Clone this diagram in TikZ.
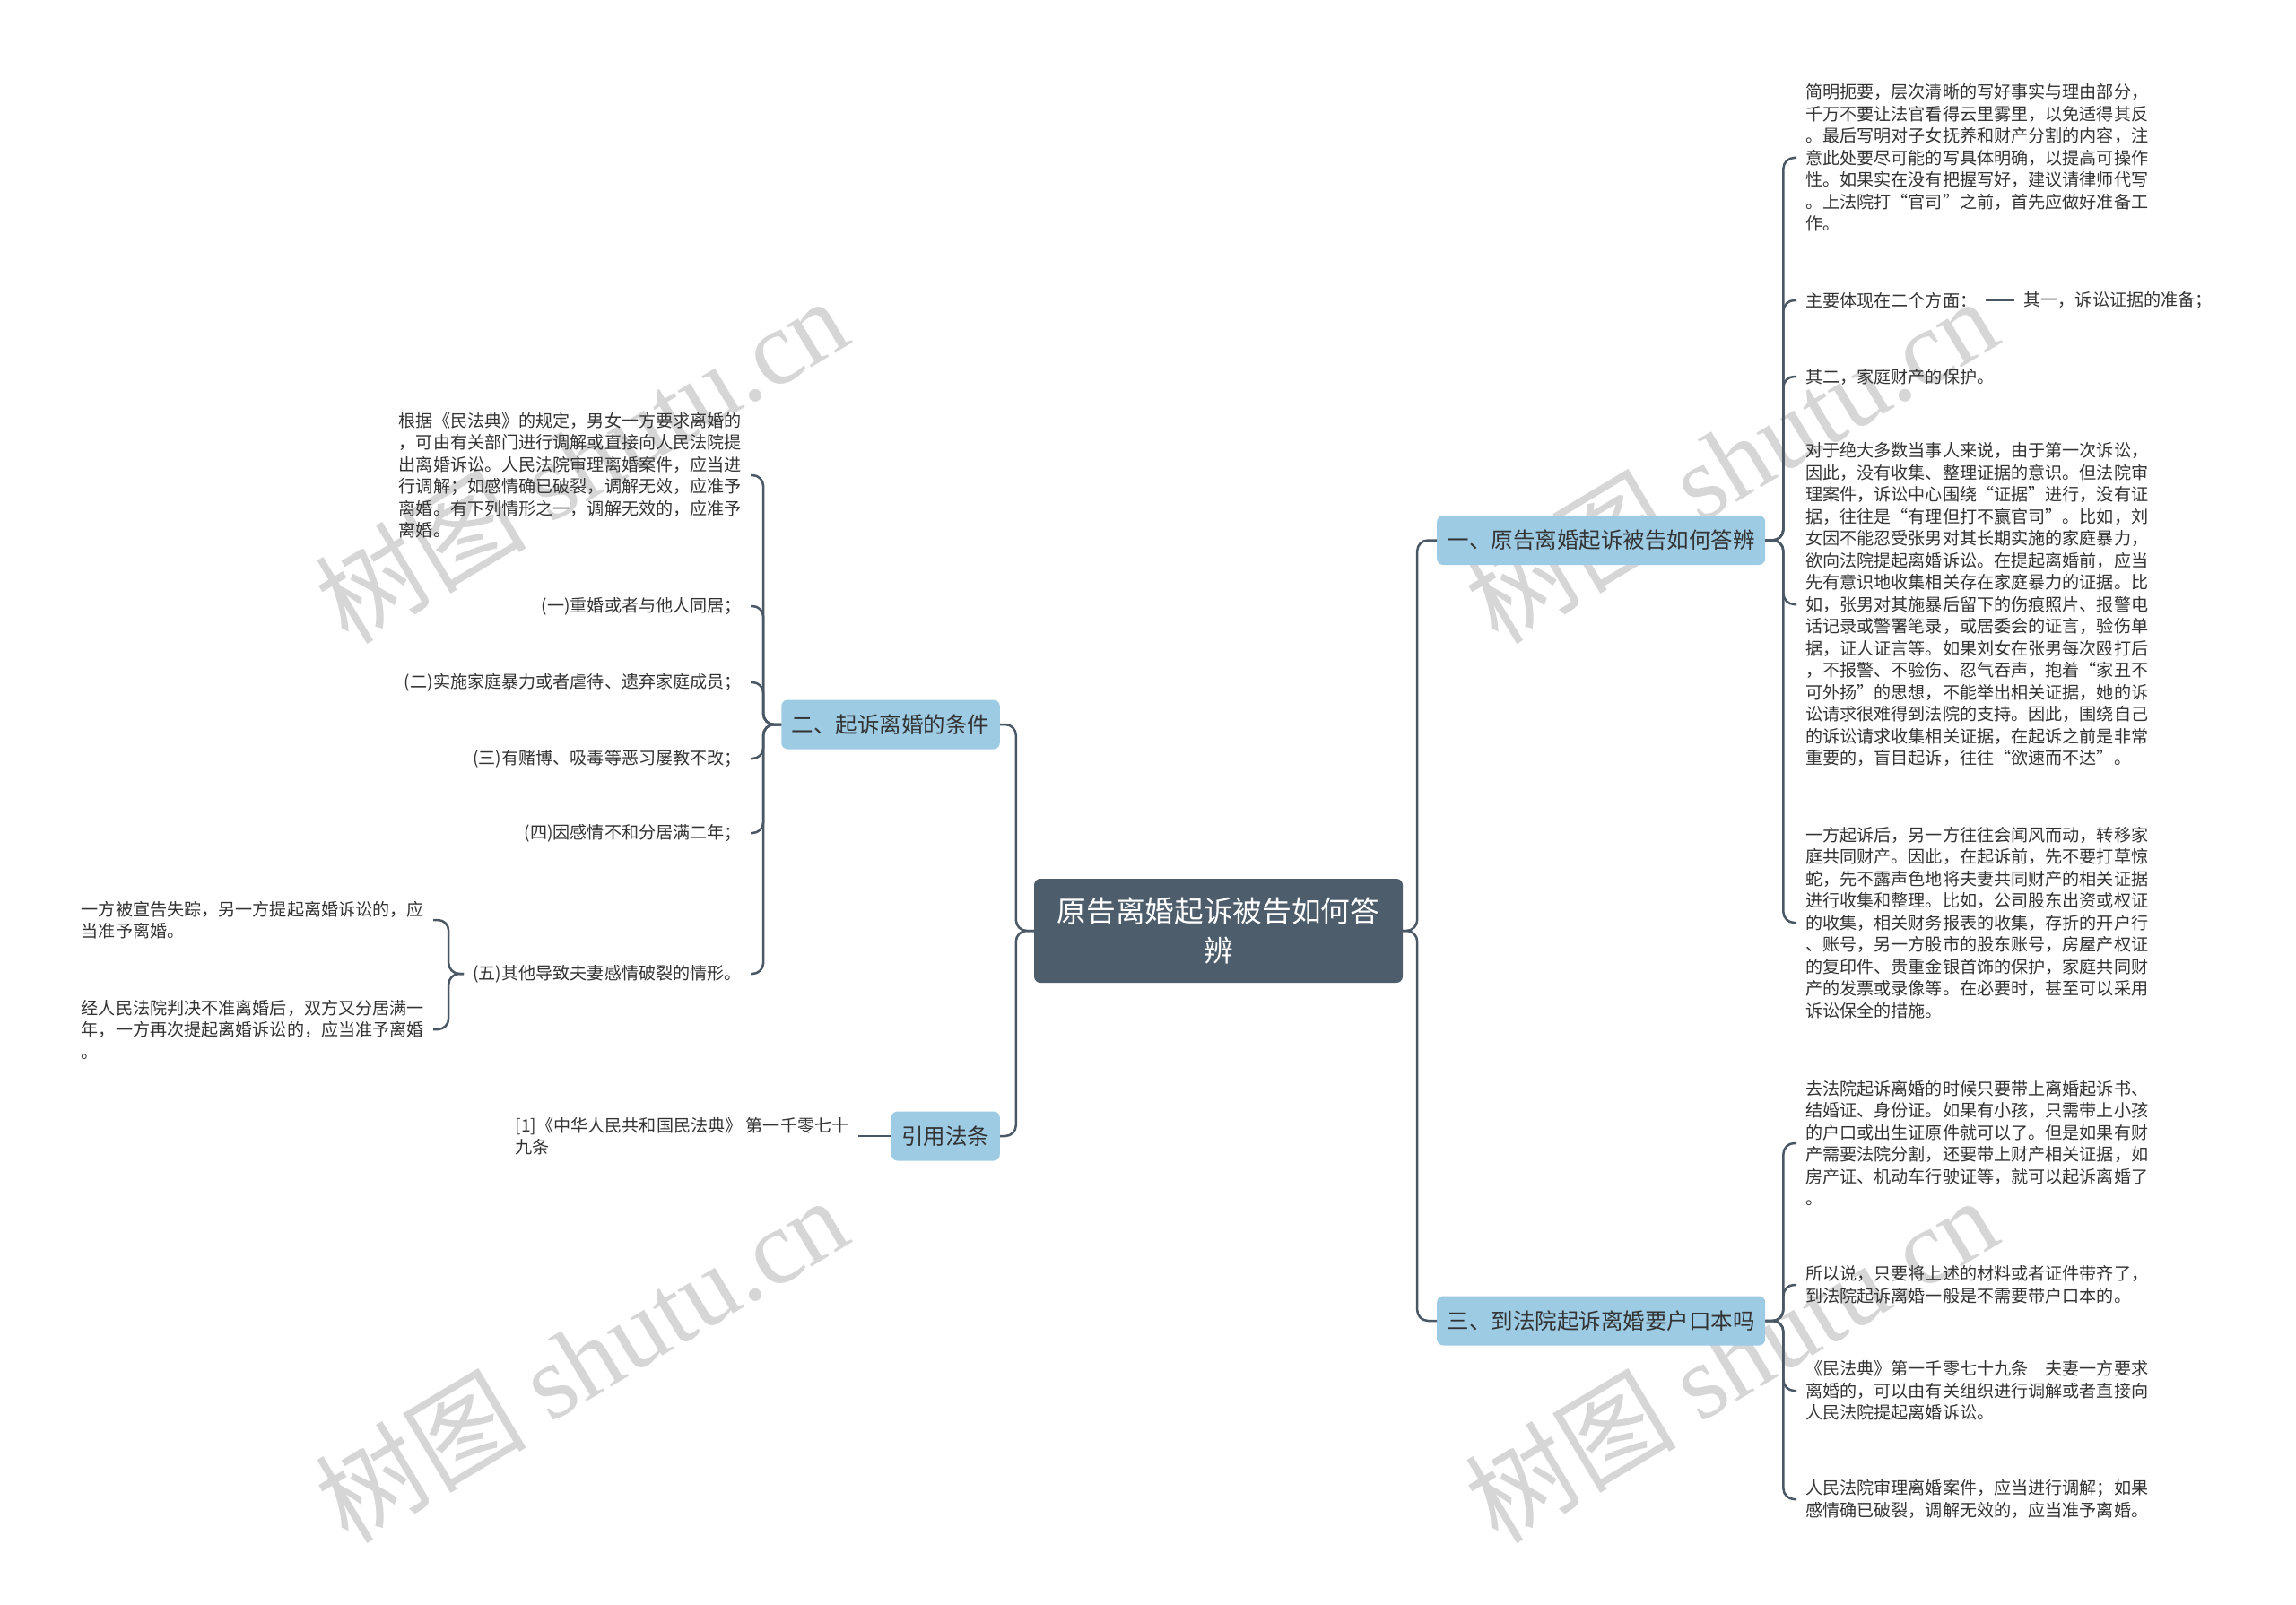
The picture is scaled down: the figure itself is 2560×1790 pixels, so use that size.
\documentclass[tikz,border=0pt]{standalone}
\usepackage{fontspec}
\setmainfont{Noto Sans CJK SC}
\newfontfamily\wmserif{Liberation Serif}
\usetikzlibrary{positioning}

\definecolor{rootfill}{HTML}{4E5D6C}
\definecolor{branchfill}{HTML}{9DCBE4}
\definecolor{linkcol}{HTML}{4A5865}
\definecolor{txt}{HTML}{333333}
\definecolor{wmgray}{HTML}{D6D6D6}

\begin{document}
\begin{tikzpicture}[
    x=1pt, y=-1pt,
    every node/.style={inner sep=0pt},
    root/.style={fill=rootfill, rounded corners=7pt, text=white, align=center,
        font=\fontsize{32.7pt}{44pt}\selectfont, minimum width=411pt, minimum height=116pt},
    branch/.style={fill=branchfill, rounded corners=7pt, text=txt,
        font=\fontsize{24.5pt}{30pt}\selectfont, inner xsep=11.5pt, minimum height=55pt},
    leaf/.style={text=txt, align=left, font=\fontsize{19.1pt}{24.5pt}\selectfont,
        inner xsep=10pt, inner ysep=4pt},
    link/.style={draw=linkcol, line width=2.5pt, rounded corners=12pt},
    watermark/.style={text=wmgray, rotate=31, font=\fontsize{118pt}{118pt}\selectfont}
]

\fill[white] (0,0) rectangle (2560,1790);
\useasboundingbox (0,0) rectangle (2560,1790);

% Watermarks
\node[watermark] (wm1) at (648,512) {树图 {\wmserif shutu.cn}};
\node[watermark] (wm2) at (648,1515) {树图 {\wmserif shutu.cn}};
\node[watermark] (wm3) at (1930,512) {树图 {\wmserif shutu.cn}};
\node[watermark] (wm4) at (1930,1515) {树图 {\wmserif shutu.cn}};

% Root
\node[root] (root) at (1358.5,1038) {原告离婚起诉被告如何答\\辨};

% Branches
\node[branch, anchor=west] (b1) at (1602,602.5) {一、原告离婚起诉被告如何答辨};
\node[branch, anchor=west] (b3) at (1602,1473) {三、到法院起诉离婚要户口本吗};
\node[branch, anchor=east] (b2) at (1115,808) {二、起诉离婚的条件};
\node[branch, anchor=east] (b4) at (1115,1267) {引用法条};

% Leaves of b1
\node[leaf, anchor=west] (r1) at (2003,176) {简明扼要，层次清晰的写好事实与理由部分，\\千万不要让法官看得云里雾里，以免适得其反\\。最后写明对子女抚养和财产分割的内容，注\\意此处要尽可能的写具体明确，以提高可操作\\性。如果实在没有把握写好，建议请律师代写\\。上法院打“官司”之前，首先应做好准备工\\作。};
\node[leaf, anchor=west] (r2) at (2003,335) {主要体现在二个方面：};
\node[leaf, right=32pt of r2] (r2a) {其一，诉讼证据的准备；};
\node[leaf, anchor=west] (r3) at (2003,420) {其二，家庭财产的保护。};
\node[leaf, anchor=west] (r4) at (2003,674) {对于绝大多数当事人来说，由于第一次诉讼，\\因此，没有收集、整理证据的意识。但法院审\\理案件，诉讼中心围绕“证据”进行，没有证\\据，往往是“有理但打不赢官司”。比如，刘\\女因不能忍受张男对其长期实施的家庭暴力，\\欲向法院提起离婚诉讼。在提起离婚前，应当\\先有意识地收集相关存在家庭暴力的证据。比\\如，张男对其施暴后留下的伤痕照片、报警电\\话记录或警署笔录，或居委会的证言，验伤单\\据，证人证言等。如果刘女在张男每次殴打后\\，不报警、不验伤、忍气吞声，抱着“家丑不\\可外扬”的思想，不能举出相关证据，她的诉\\讼请求很难得到法院的支持。因此，围绕自己\\的诉讼请求收集相关证据，在起诉之前是非常\\重要的，盲目起诉，往往“欲速而不达”。};
\node[leaf, anchor=west] (r5) at (2003,1029) {一方起诉后，另一方往往会闻风而动，转移家\\庭共同财产。因此，在起诉前，先不要打草惊\\蛇，先不露声色地将夫妻共同财产的相关证据\\进行收集和整理。比如，公司股东出资或权证\\的收集，相关财务报表的收集，存折的开户行\\、账号，另一方股市的股东账号，房屋产权证\\的复印件、贵重金银首饰的保护，家庭共同财\\产的发票或录像等。在必要时，甚至可以采用\\诉讼保全的措施。};

% Leaves of b3
\node[leaf, anchor=west] (s1) at (2003,1275) {去法院起诉离婚的时候只要带上离婚起诉书、\\结婚证、身份证。如果有小孩，只需带上小孩\\的户口或出生证原件就可以了。但是如果有财\\产需要法院分割，还要带上财产相关证据，如\\房产证、机动车行驶证等，就可以起诉离婚了\\。};
\node[leaf, anchor=west] (s2) at (2003,1433) {所以说，只要将上述的材料或者证件带齐了，\\到法院起诉离婚一般是不需要带户口本的。};
\node[leaf, anchor=west] (s3) at (2003,1551) {《民法典》第一千零七十九条　夫妻一方要求\\离婚的，可以由有关组织进行调解或者直接向\\人民法院提起离婚诉讼。};
\node[leaf, anchor=west] (s4) at (2003,1672) {人民法院审理离婚案件，应当进行调解；如果\\感情确已破裂，调解无效的，应当准予离婚。};

% Leaves of b2
\node[leaf, anchor=east] (l1) at (837,530) {根据《民法典》的规定，男女一方要求离婚的\\，可由有关部门进行调解或直接向人民法院提\\出离婚诉讼。人民法院审理离婚案件，应当进\\行调解；如感情确已破裂，调解无效，应准予\\离婚。有下列情形之一，调解无效的，应准予\\离婚。};
\node[leaf, anchor=east] (l2) at (837,676) {(一)重婚或者与他人同居；};
\node[leaf, anchor=east] (l3) at (837,761) {(二)实施家庭暴力或者虐待、遗弃家庭成员；};
\node[leaf, anchor=east] (l4) at (837,846) {(三)有赌博、吸毒等恶习屡教不改；};
\node[leaf, anchor=east] (l5) at (837,929) {(四)因感情不和分居满二年；};
\node[leaf, anchor=east] (l6) at (837,1086) {(五)其他导致夫妻感情破裂的情形。};
\node[leaf, anchor=east] (l6a) at (483,1026) {一方被宣告失踪，另一方提起离婚诉讼的，应\\当准予离婚。};
\node[leaf, anchor=east] (l6b) at (483,1148) {经人民法院判决不准离婚后，双方又分居满一\\年，一方再次提起离婚诉讼的，应当准予离婚\\。};

% Leaf of b4
\node[leaf, left=37pt of b4] (q1) {[1]《中华人民共和国民法典》 第一千零七十\\九条};

% Links from root
\draw[link] (root.east) -- ++(16,0) |- (b1.west);
\draw[link] (root.east) -- ++(16,0) |- (b3.west);
\draw[link] (root.west) -- ++(-20,0) |- (b2.east);
\draw[link] (root.west) -- ++(-20,0) |- (b4.east);

% Links from b1
\foreach \n in {r1,r2,r3,r4,r5}
    \draw[link] (b1.east) -- ++(20,0) |- (\n.west);
\draw[link] (r2.east) -- (r2a.west);

% Links from b3
\foreach \n in {s1,s2,s3,s4}
    \draw[link] (b3.east) -- ++(20,0) |- (\n.west);

% Links from b2
\foreach \n in {l1,l2,l3,l4,l5,l6}
    \draw[link] (b2.west) -- ++(-20,0) |- (\n.east);
\draw[link] (l6.west) -- ++(-17,0) |- (l6a.east);
\draw[link] (l6.west) -- ++(-17,0) |- (l6b.east);

% Link from b4
\draw[link] (b4.west) -- (q1.east);

\end{tikzpicture}
\end{document}
